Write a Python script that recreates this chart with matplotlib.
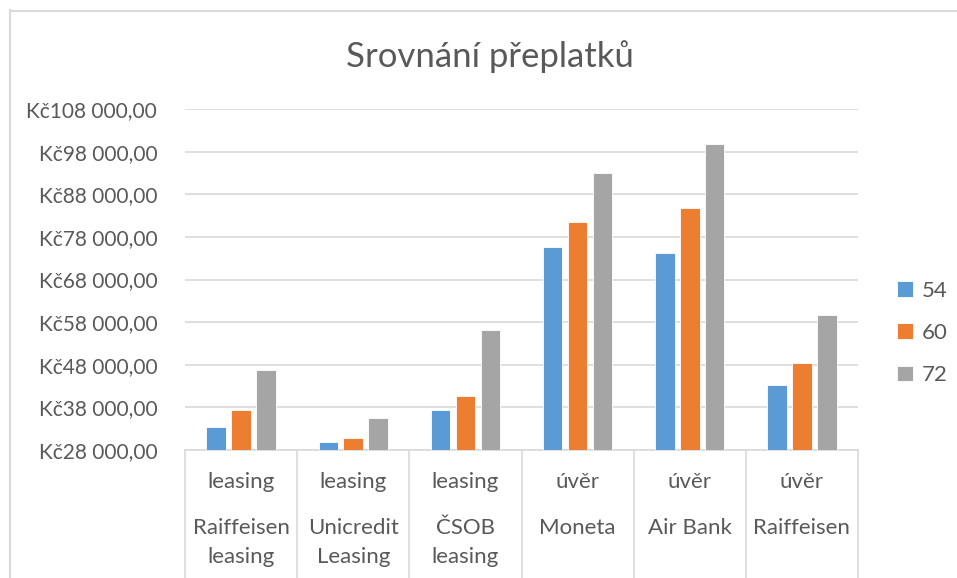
import numpy as np
import matplotlib
matplotlib.use("Agg")
from matplotlib import pyplot as plt
import matplotlib.transforms as mtransforms

# data
kind = ["leasing", "leasing", "leasing", "úvěr", "úvěr", "úvěr"]
names = ["Raiffeisen\nleasing", "Unicredit\nLeasing", "ČSOB\nleasing",
         "Moneta", "Air Bank", "Raiffeisen"]
series = ["54", "60", "72"]
v54 = [33300, 29800, 37400, 75600, 74300, 43300]
v60 = [37400, 30700, 40700, 81400, 84800, 48300]
v72 = [46700, 35500, 56100, 93000, 99900, 59600]
yticks = list(range(28000, 108001, 10000))

colors = ["#5B9BD5", "#ED7D31", "#A5A5A5"]
txt = "#595959"
grid = "#D9D9D9"

plt.rcParams['font.family'] = ['Lato', 'DejaVu Sans']

W, H = 957, 578
fig = plt.figure(figsize=(W / 100, H / 100), dpi=100)
ax = fig.add_axes([185 / W, 1 - 450 / H, (858 - 185) / W, (450 - 109) / H])

x = np.arange(len(names))
step = 0.222
width = 0.174
bars = []
for i, (lab, vals) in enumerate(zip(series, [v54, v60, v72])):
    b = ax.bar(x + (i - 1) * step, np.array(vals) - 28000, bottom=28000,
               width=width, color=colors[i], edgecolor="white", linewidth=0.6,
               label=lab, zorder=3)
    bars.append(b)

ax.set_ylim(28000, 108000)
ax.set_xlim(-0.5, len(names) - 0.5)
ax.set_yticks(yticks)
ax.set_yticklabels(["Kč{:,}".format(v).replace(",", " ") + ",00" for v in yticks])
ax.tick_params(axis='y', length=0, pad=20, labelsize=15, labelcolor=txt)
ax.set_xticks([])
ax.grid(axis='y', color=grid, linewidth=1.2, zorder=0)
for s in ["top", "right", "left"]:
    ax.spines[s].set_visible(False)
ax.spines["bottom"].set_color(grid)
ax.spines["bottom"].set_linewidth(1.2)

# category table under the axis
trans = mtransforms.blended_transform_factory(ax.transData, ax.transAxes)
ah = 450 - 109
for b in np.arange(len(names) + 1) - 0.5:
    ax.plot([b, b], [0, -130 / ah], transform=trans, color=grid,
            linewidth=1.2, clip_on=False)
for i in range(len(names)):
    ax.text(i, -(482 - 450) / ah, kind[i], transform=trans, ha='center',
            va='center', fontsize=16, color=txt)
    for j, line in enumerate(names[i].split("\n")):
        ax.text(i, -(528 + 29 * j - 450) / ah, line, transform=trans,
                ha='center', va='center', fontsize=16, color=txt)

fig.text(490 / W, 1 - 57 / H, "Srovnání přeplatků", ha='center', va='center',
         fontsize=25, color=txt)

fig.legend(handles=bars, loc='center left', bbox_to_anchor=(877 / W, 1 - 333 / H),
           frameon=False, fontsize=16, labelcolor=txt, handlelength=0.7,
           handleheight=0.7, handletextpad=0.4, labelspacing=1.0)

# chart area border
fig.add_artist(plt.Line2D([9.5 / W, 9.5 / W], [0, 1 - 10 / H], color=grid,
                          linewidth=1.5, transform=fig.transFigure))
fig.add_artist(plt.Line2D([9.5 / W, 956 / W], [1 - 10.5 / H, 1 - 10.5 / H],
                          color=grid, linewidth=1.5, transform=fig.transFigure))

fig.savefig("out.png", dpi=100)
